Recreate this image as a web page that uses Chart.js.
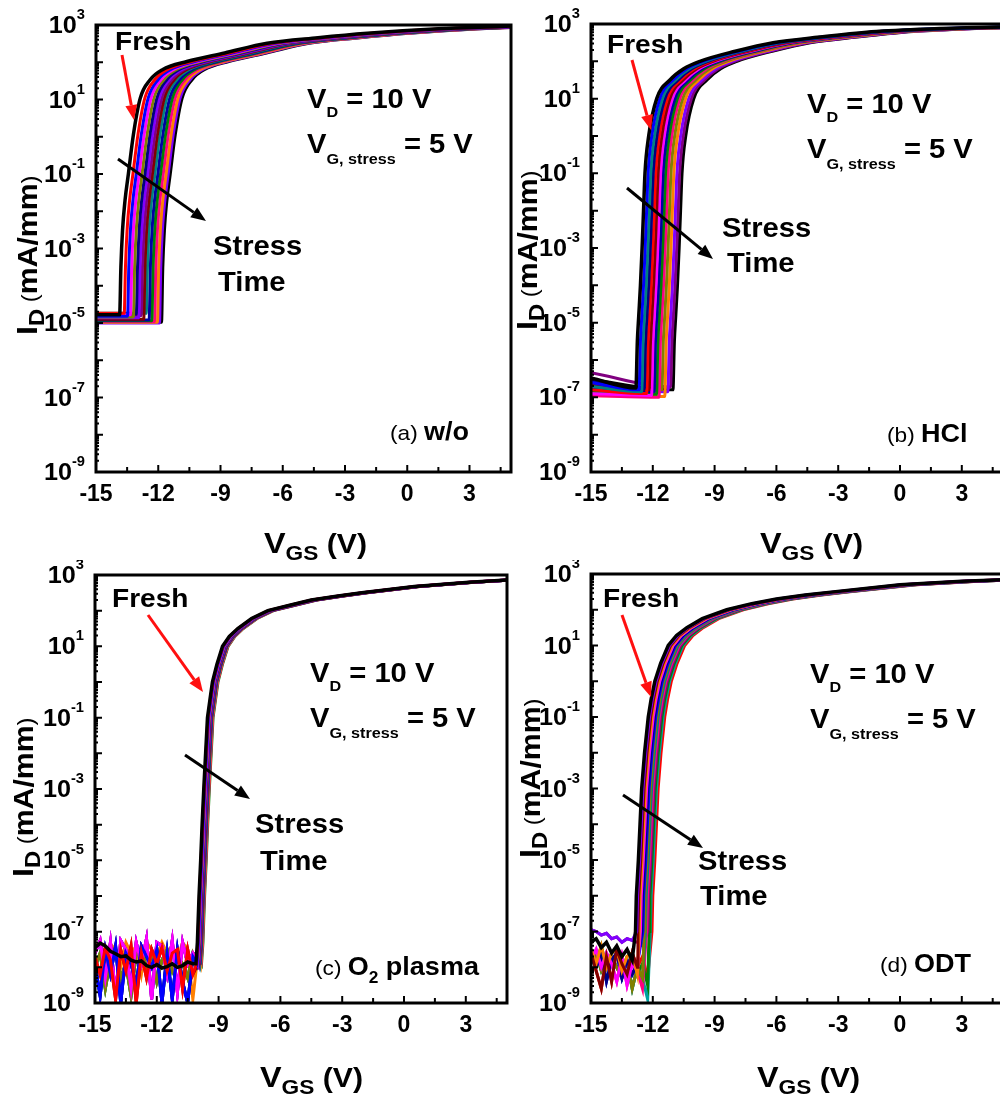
<!DOCTYPE html>
<html lang="en">
<head>
<meta charset="UTF-8">
<title>Transfer curves under gate bias stress</title>
<script src="https://cdn.jsdelivr.net/npm/chart.js"></script>
<style>
  body { margin: 0; width: 1000px; height: 1101px; overflow: hidden; background: #fff; position: relative; }
  canvas { position: absolute; }
</style>
</head>
<body>
<canvas id="ca" width="520" height="580" style="left:0;top:0"></canvas>
<canvas id="cb" width="505" height="580" style="left:505px;top:0"></canvas>
<canvas id="cc" width="520" height="541" style="left:0;top:560px"></canvas>
<canvas id="cd" width="505" height="541" style="left:505px;top:560px"></canvas>
<script>
// ---- data (V in volts, current as log10 of mA/mm) ----
const xTicks = [-15, -12, -9, -6, -3, 0, 3];
const yLabelExp = [3, 1, -1, -3, -5, -7, -9];

// (a) w/o : fresh on-state curve, then shift of each stress step
const aRiseV = -13.86;
const aOnV    = [-13.80, -13.72, -13.60, -13.44, -13.20, -12.87, -12.39, -11.80, -10.62, -8.80, -6.75, -4.30, -1.92, 1.50, 4.50, 5.00];
const aOnLogI = [ -3.50,  -2.50,  -1.70,  -1.00,   0.05,   1.03,   1.53,   1.80,   2.02,  2.25,  2.51,  2.66,  2.78, 2.90, 2.96, 2.97];
const aShift  = [0, 0.22, 0.38, 0.52, 0.66, 0.80, 0.92, 1.04, 1.16, 1.28, 1.42, 1.55, 1.68, 1.82, 1.92, 2.02];
const aFloor  = [-4.78, -4.74, -4.82, -4.78, -4.84, -4.76, -4.86, -4.80, -4.90, -4.74, -4.92, -4.94, -4.96, -4.98, -5.00, -4.98];

// (b) HCl
const bRiseV = -12.82;
const bOnV    = [-12.75, -12.68, -12.60, -12.52, -12.45, -12.38, -12.20, -11.81, -11.17, -10.50, -9.71, -8.00, -6.16, -3.90, -1.62, 1.00, 3.24, 5.00];
const bOnLogI = [ -5.50,  -4.80,  -4.00,  -3.00,  -2.00,  -1.00,   0.00,   1.00,   1.50,   1.80,  2.00,  2.27,  2.50,  2.65,  2.78, 2.86, 2.90, 2.92];
const bShift  = [0, 0.15, 0.28, 0.40, 0.52, 0.64, 0.76, 0.88, 1.00, 1.12, 1.26, 1.40, 1.55, 1.68, 1.80];
const bFloorStart = [-6.48, -6.60, -6.70, -6.55, -6.80, -6.65, -6.90, -6.75, -6.85, -6.95, -6.70, -6.95, -6.60, -6.34, -6.52];
const bFloorEnd   = [-6.75, -6.80, -6.85, -6.78, -6.90, -6.80, -6.95, -6.85, -6.92, -7.00, -6.80, -6.98, -6.85, -6.72, -6.80];

// (c) O2 plasma : noisy off-state, nearly no shift
const cNoiseV = [-15, -14.75, -14.5, -14.25, -14, -13.75, -13.5, -13.25, -13, -12.75, -12.5, -12.25, -12, -11.75, -11.5, -11.25, -11, -10.75, -10.5, -10.25, -10];
const cNoise = [
  [-7.45, -7.32, -7.40, -7.55, -7.62, -7.70, -7.68, -7.80, -7.85, -7.82, -7.95, -8.00, -7.92, -8.02, -7.98, -7.90, -8.00, -7.95, -7.85, -7.90, -7.95],
  [-7.60, -7.25, -8.30, -7.30, -8.80, -7.25, -7.50, -8.60, -7.30, -7.90, -7.20, -8.90, -7.30, -7.40, -8.20, -7.25, -8.70, -7.30, -7.90, -7.60, -7.80],
  [-7.90, -8.80, -7.50, -8.20, -7.40, -9.00, -7.60, -7.90, -8.50, -7.40, -7.70, -8.00, -7.50, -9.00, -7.60, -8.90, -7.50, -8.40, -9.00, -7.70, -8.00],
  [-7.70, -8.20, -7.45, -7.80, -8.90, -7.50, -8.10, -7.40, -9.00, -7.60, -8.30, -7.50, -7.90, -7.45, -8.10, -7.60, -7.50, -8.60, -7.50, -8.20, -7.90],
  [-7.40, -7.30, -7.80, -7.35, -7.50, -8.00, -7.30, -7.60, -7.40, -8.20, -7.30, -7.50, -7.70, -7.30, -7.60, -7.40, -7.80, -7.30, -7.50, -8.90, -7.60],
  [-8.00, -7.60, -8.60, -7.80, -7.50, -8.30, -7.90, -8.80, -7.60, -7.50, -8.00, -7.60, -8.40, -7.80, -7.50, -8.10, -7.70, -7.90, -8.30, -7.60, -7.70]
];
const cNoiseOf = [0, 3, 2, 1, 5, 2, 1, 1, 3, 5, 2, 4, 1, 5];
const cOnV    = [-10.10, -10.03, -9.95, -9.87, -9.80, -9.72, -9.63, -9.54, -9.42, -9.30, -9.08, -8.81, -8.48, -8.07, -7.40, -6.61, -5.50, -4.50, -3.20, -2.05, 0.50, 3.16, 5.00];
const cOnLogI = [ -7.90,  -7.30, -6.00, -5.00, -4.00, -3.00, -2.00, -1.00, -0.50,  0.00,  0.50,  1.00,  1.28,  1.50,  1.78,  2.00,  2.16,  2.30,  2.41,  2.50, 2.68, 2.80, 2.86];
const cShift  = [0, 0.02, 0.05, 0.07, 0.09, 0.11, 0.13, 0.15, 0.17, 0.19, 0.21, 0.23, 0.25, 0.27];

// (d) ODT
const dNoiseV = [-15, -14.75, -14.5, -14.25, -14, -13.75, -13.5, -13.25, -13, -12.75, -12.5, -12.25, -12];
const dNoise = [
  [-7.30, -7.20, -7.45, -7.30, -7.60, -7.40, -7.70, -7.50, -7.80, -7.60, -7.50, -7.70, -7.60],
  [-6.95, -7.00, -7.10, -7.05, -7.20, -7.15, -7.30, -7.20, -7.25, -7.30, -7.40, -7.30, -7.50],
  [-7.60, -8.10, -8.60, -7.70, -8.40, -7.50, -7.90, -8.20, -7.60, -8.00, -7.70, -8.30, -7.80],
  [-7.50, -7.90, -7.40, -8.00, -7.60, -7.50, -8.10, -7.70, -7.60, -8.20, -7.90, -8.50, -7.80],
  [-7.80, -7.50, -8.00, -7.60, -7.90, -8.40, -7.70, -8.50, -7.90, -8.10, -8.60, -7.90, -8.80],
  [-7.70, -8.00, -7.60, -8.40, -7.80, -7.60, -8.30, -7.80, -8.20, -7.90, -8.70, -8.20, -8.90],
  [-7.90, -7.60, -8.10, -7.80, -7.70, -8.00, -8.30, -7.80, -8.60, -8.00, -8.30, -8.90, -9.00]
];
const dNoiseOf = [0, 1, 2, 3, 4, 5, 5, 6, 6, 4, 1, 3, 6, 2];
const dOnV    = [-12.84, -12.80, -12.70, -12.62, -12.54, -12.40, -12.22, -12.08, -11.90, -11.62, -11.25, -10.85, -10.35, -9.60, -8.41, -7.20, -6.00, -4.60, -3.24, 0.00, 3.00, 5.00];
const dOnLogI = [ -7.00,  -6.00, -5.00, -4.00, -3.00, -2.00, -1.00, -0.50,  0.00,  0.50,  1.00,  1.28,  1.50,  1.75,  2.00,  2.17,  2.30,  2.41,  2.50, 2.70, 2.80, 2.84];
const dShift  = [0, 0.06, 0.12, 0.18, 0.24, 0.30, 0.36, 0.42, 0.48, 0.54, 0.60, 0.66, 0.72, 0.80];

// ---- styles ----
const aColors = ['#000000', '#FF0000', '#0000FF', '#FF00FF', '#808000', '#000080', '#8000FF', '#800080', '#800000', '#008080', '#0000A0', '#008000', '#FF0080', '#FF8000', '#8000FF', '#000000'];
const bColors = ['#000000', '#0000FF', '#008080', '#000080', '#FF0000', '#800000', '#FF00FF', '#0000A0', '#008000', '#FF0080', '#808000', '#FF8000', '#8000FF', '#800080', '#000000'];
const cColors = ['#000000', '#FF0000', '#0000FF', '#FF00FF', '#808000', '#000080', '#8000FF', '#800080', '#800000', '#008080', '#0000A0', '#FF8000', '#FF0080', '#008000'];
const dColors = ['#000000', '#8000FF', '#800000', '#FF8000', '#FF00FF', '#000080', '#0000FF', '#808000', '#008080', '#FF0080', '#800080', '#008000', '#00A0A0', '#FF0000'];

const FF = '"Liberation Sans", Arial, sans-serif';
const SX = 1.08;

function stepCurves(riseV, onV, onLog, shifts, floorA, floorB) {
  return shifts.map((s, k) => {
    const pts = [{x: -15, y: 10 ** floorA[k]}, {x: riseV + s, y: 10 ** floorB[k]}];
    onV.forEach((v, i) => pts.push({x: v + s, y: 10 ** onLog[i]}));
    return pts;
  });
}
function noisyCurves(noiseV, noise, noiseOf, onV, onLog, shifts) {
  return shifts.map((s, k) => {
    const pat = noise[noiseOf[k]];
    const pts = [];
    noiseV.forEach((v, i) => { if (v < onV[0] + s - 0.02) pts.push({x: v, y: 10 ** pat[i]}); });
    onV.forEach((v, i) => pts.push({x: v + s, y: 10 ** onLog[i]}));
    return pts;
  });
}

function partsWidth(ctx, parts, sx) {
  let w = 0;
  for (const [t, size, bold] of parts) {
    ctx.font = (bold ? 'bold ' : '') + size + 'px ' + FF;
    w += ctx.measureText(t).width * sx;
  }
  return w;
}
function drawParts(ctx, x, y, parts, sx) {
  let cx = x;
  for (const [t, size, bold, dy] of parts) {
    ctx.font = (bold ? 'bold ' : '') + size + 'px ' + FF;
    ctx.save(); ctx.translate(cx, y + (dy || 0)); ctx.scale(sx, 1); ctx.fillText(t, 0, 0); ctx.restore();
    cx += ctx.measureText(t).width * sx;
  }
}
function arrow(ctx, x1, y1, x2, y2, color) {
  const ang = Math.atan2(y2 - y1, x2 - x1), hl = 15, hw = 6;
  const bx = x2 - hl * Math.cos(ang), by = y2 - hl * Math.sin(ang);
  ctx.strokeStyle = color; ctx.fillStyle = color; ctx.lineWidth = 3;
  ctx.beginPath(); ctx.moveTo(x1, y1); ctx.lineTo(bx, by); ctx.stroke();
  ctx.beginPath(); ctx.moveTo(x2, y2);
  ctx.lineTo(bx + hw * Math.sin(ang), by - hw * Math.cos(ang));
  ctx.lineTo(bx - hw * Math.sin(ang), by + hw * Math.cos(ang));
  ctx.closePath(); ctx.fill();
}

// annotation placement, page pixels
const specs = {
  ca: {ox: 0, oy: 0, fresh: [115, 50], red: [122, 55, 134, 120], blk: [118, 159, 206, 221], stress: [213, 255], time: [218, 291],
       vd: [307, 108], vg: [307, 153], tag: [390, 440, [['(a) ', 21, false, 0], ['w/o', 25, true, 0]]], yt: [37, 335], xt: [264, 553]},
  cb: {ox: 505, oy: 0, fresh: [607, 53], red: [632, 60, 651, 130], blk: [627, 188, 713, 259], stress: [722, 237], time: [727, 272],
       vd: [807, 113], vg: [807, 158], tag: [887, 442, [['(b) ', 21, false, 0], ['HCl', 25, true, 0]]], yt: [537, 330], xt: [760, 553]},
  cc: {ox: 0, oy: 560, fresh: [112, 607], red: [148, 615, 203, 692], blk: [185, 755, 250, 799], stress: [255, 833], time: [260, 870],
       vd: [310, 682], vg: [310, 727], tag: [315, 975, [['(c) ', 21, false, 0], ['O', 25, true, 0], ['2', 16, true, 8], [' plasma', 25, true, 0]]], yt: [33, 877], xt: [260, 1087]},
  cd: {ox: 505, oy: 560, fresh: [603, 607], red: [622, 615, 651, 697], blk: [623, 795, 703, 848], stress: [698, 870], time: [700, 905],
       vd: [810, 683], vg: [810, 728], tag: [880, 972, [['(d) ', 21, false, 0], ['ODT', 25, true, 0]]], yt: [540, 858], xt: [757, 1087]}
};

const deco = {
  id: 'deco',
  afterDraw(chart) {
    const sp = specs[chart.canvas.id];
    const {ctx, chartArea: a} = chart;
    const x = chart.scales.x, y = chart.scales.y;
    ctx.save();
    ctx.strokeStyle = '#000'; ctx.fillStyle = '#000'; ctx.lineWidth = 3;
    ctx.strokeRect(a.left, a.top, a.right - a.left, a.bottom - a.top);
    // inward ticks
    ctx.lineWidth = 2;
    ctx.beginPath();
    for (let e = -9; e <= 3; e++) {
      const py = y.getPixelForValue(10 ** e);
      ctx.moveTo(a.left, py); ctx.lineTo(a.left + 7, py);
      if (e < 3) for (let m = 2; m < 10; m++) {
        const pm = y.getPixelForValue(m * 10 ** e);
        ctx.moveTo(a.left, pm); ctx.lineTo(a.left + 3, pm);
      }
    }
    for (let v = -15; v <= 5; v += 1.5) {
      const px = x.getPixelForValue(v);
      const len = (Math.round(v * 2) % 6 === 0) ? 7 : 5;
      ctx.moveTo(px, a.bottom); ctx.lineTo(px, a.bottom - len);
    }
    ctx.stroke();
    // y tick labels 10^n
    ctx.textAlign = 'left'; ctx.textBaseline = 'alphabetic';
    for (const e of yLabelExp) {
      const py = y.getPixelForValue(10 ** e);
      const parts = [['10', 24, true, 0], [String(e), 14, true, -14]];
      const w = partsWidth(ctx, parts, 1.05);
      drawParts(ctx, a.left - 11 - w, py + 8, parts, 1.05);
    }
    const ox = sp.ox, oy = sp.oy;
    // axis titles
    ctx.save();
    ctx.translate(sp.yt[0] - ox, sp.yt[1] - oy); ctx.rotate(-Math.PI / 2);
    drawParts(ctx, 0, 0, [['I', 30, true, 0], ['D', 22, true, 7], [' (', 22, false, 0], ['mA/mm', 28, true, 0], [')', 22, false, 0]], SX);
    ctx.restore();
    drawParts(ctx, sp.xt[0] - ox, sp.xt[1] - oy, [['V', 30, true, 0], ['GS', 21, true, 7], [' (V)', 28, true, 0]], SX);
    // annotations
    drawParts(ctx, sp.fresh[0] - ox, sp.fresh[1] - oy, [['Fresh', 26, true, 0]], SX);
    drawParts(ctx, sp.stress[0] - ox, sp.stress[1] - oy, [['Stress', 27, true, 0]], SX);
    drawParts(ctx, sp.time[0] - ox, sp.time[1] - oy, [['Time', 27, true, 0]], SX);
    drawParts(ctx, sp.vd[0] - ox, sp.vd[1] - oy, [['V', 27, true, 0], ['D', 15, true, 9], [' = 10 V', 27, true, 0]], SX);
    drawParts(ctx, sp.vg[0] - ox, sp.vg[1] - oy, [['V', 27, true, 0], ['G, stress', 15, true, 11], [' = 5 V', 27, true, 0]], SX);
    drawParts(ctx, sp.tag[0] - ox, sp.tag[1] - oy, sp.tag[2], SX);
    arrow(ctx, sp.red[0] - ox, sp.red[1] - oy, sp.red[2] - ox, sp.red[3] - oy, '#FF1010');
    arrow(ctx, sp.blk[0] - ox, sp.blk[1] - oy, sp.blk[2] - ox, sp.blk[3] - oy, '#000');
    ctx.restore();
  }
};

function makeChart(id, curves, colors, pad, smooth) {
  const datasets = curves.map((pts, k) => ({
    data: pts, borderColor: colors[k], borderWidth: k === 0 ? 3.5 : 3,
    pointRadius: 0, fill: false,
    cubicInterpolationMode: smooth ? 'monotone' : 'default', tension: 0
  }));
  return new Chart(document.getElementById(id), {
    type: 'line',
    data: {datasets},
    options: {
      responsive: false, animation: false,
      layout: {padding: pad},
      plugins: {legend: {display: false}, tooltip: {enabled: false}},
      scales: {
        x: {
          type: 'linear', min: -15, max: 5,
          afterBuildTicks: s => { s.ticks = xTicks.map(v => ({value: v})); },
          afterFit: s => { s.height = 30; },
          grid: {display: false, drawTicks: false}, border: {display: false},
          ticks: {color: '#000', padding: 9, maxRotation: 0, autoSkip: false,
                  font: {family: FF, size: 23, weight: 'bold'}, callback: v => String(v)}
        },
        y: {
          type: 'logarithmic', min: 1e-9, max: 1e3,
          afterFit: s => { s.width = 0; },
          grid: {display: false, drawTicks: false}, border: {display: false},
          ticks: {display: false}
        }
      }
    },
    plugins: [deco]
  });
}

makeChart('ca', stepCurves(aRiseV, aOnV, aOnLogI, aShift, aFloor, aFloor), aColors,
  {left: 96, top: 25, right: 9, bottom: 78}, true);
makeChart('cb', stepCurves(bRiseV, bOnV, bOnLogI, bShift, bFloorStart, bFloorEnd), bColors,
  {left: 86, top: 24, right: 7, bottom: 78}, true);
makeChart('cc', noisyCurves(cNoiseV, cNoise, cNoiseOf, cOnV, cOnLogI, cShift), cColors,
  {left: 95, top: 15, right: 13, bottom: 68}, false);
makeChart('cd', noisyCurves(dNoiseV, dNoise, dNoiseOf, dOnV, dOnLogI, dShift), dColors,
  {left: 86, top: 14, right: 7, bottom: 68}, false);
</script>
</body>
</html>
